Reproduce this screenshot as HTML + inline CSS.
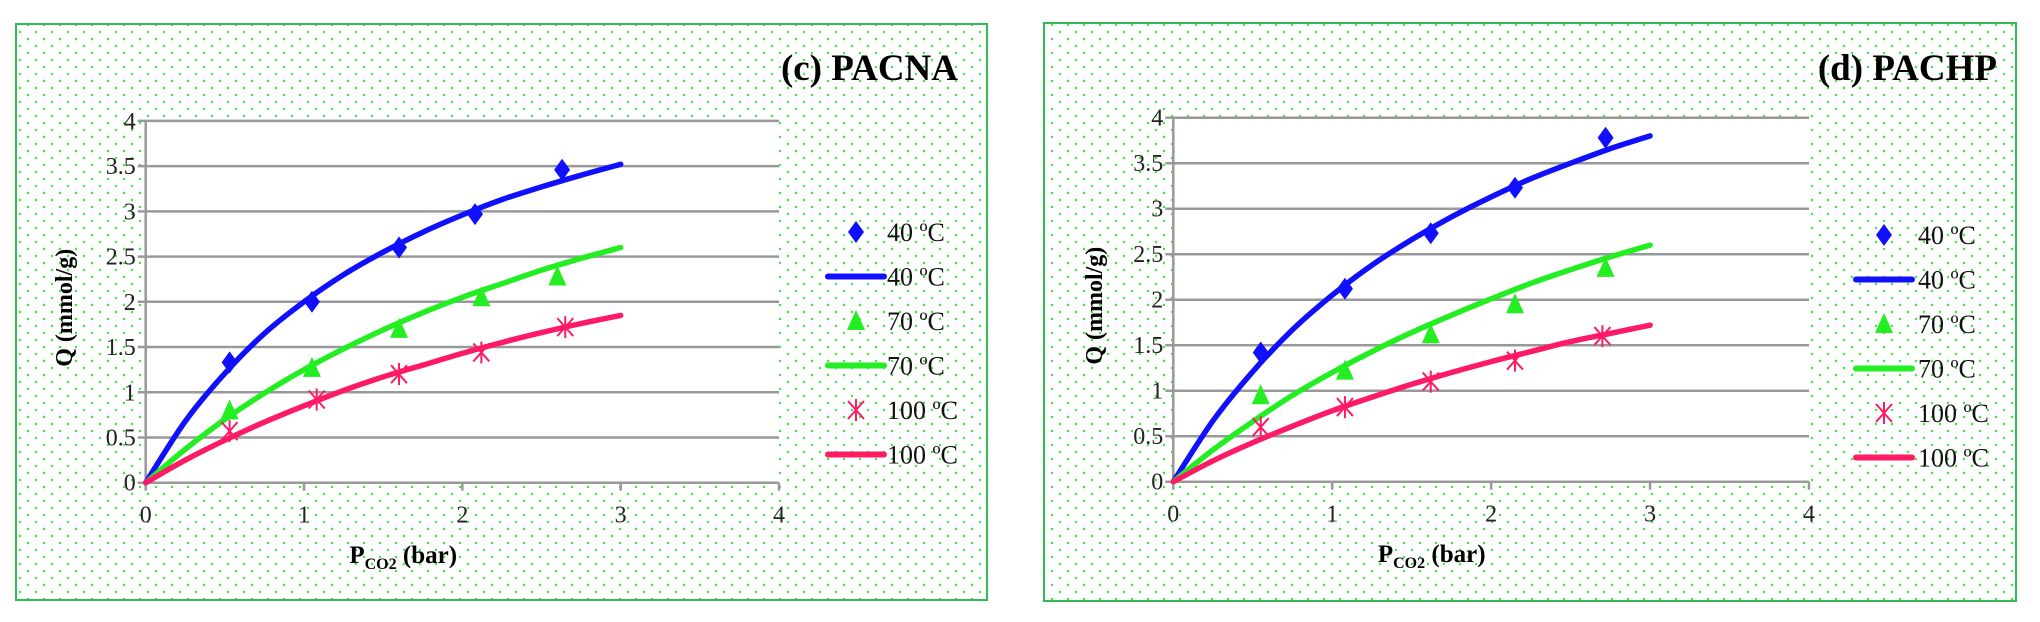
<!DOCTYPE html>
<html><head><meta charset="utf-8"><style>
html,body{margin:0;padding:0;background:#fff;}
svg{display:block;}
svg text{font-family:"Liberation Serif","DejaVu Serif",serif;}
</style></head><body>
<svg id="root" width="2040" height="622" viewBox="0 0 2040 622">
<defs>
<pattern id="dots" width="16" height="14" patternUnits="userSpaceOnUse">
<circle cx="4" cy="4" r="1.2" fill="#33ee33"/><circle cx="12" cy="11" r="1.2" fill="#33ee33"/>
</pattern>
</defs>
</svg>
<script>
// ---- data ----
const curveP = [0,0.25,0.5,0.75,1,1.25,1.5,1.75,2,2.25,2.5,2.75,3];
const xTicks = [0,1,2,3,4];
const yTicks = [0,0.5,1,1.5,2,2.5,3,3.5,4];
const yTickLabels = ["0","0.5","1","1.5","2","2.5","3","3.5","4"];
const seriesNames = ["40 ºC","70 ºC","100 ºC"];
// Panel c (PACNA)
const c40P = [0.53,1.05,1.6,2.08,2.63];
const c40Q = [1.33,2.0,2.6,2.97,3.46];
const c70P = [0.53,1.05,1.6,2.12,2.6];
const c70Q = [0.8,1.27,1.7,2.05,2.28];
const c100P = [0.53,1.08,1.6,2.12,2.65];
const c100Q = [0.57,0.92,1.2,1.44,1.72];
const c40Fit = [0,0.68,1.21,1.65,2.0,2.30,2.55,2.77,2.96,3.13,3.27,3.40,3.52];
const c70Fit = [0,0.37,0.70,0.99,1.25,1.48,1.69,1.88,2.05,2.20,2.35,2.48,2.6];
const c100Fit = [0,0.25,0.47,0.67,0.85,1.02,1.17,1.30,1.43,1.55,1.66,1.76,1.85];
// Panel d (PACHP)
const d40P = [0.55,1.08,1.62,2.15,2.72];
const d40Q = [1.42,2.12,2.73,3.23,3.78];
const d70P = [0.55,1.08,1.62,2.15,2.72];
const d70Q = [0.95,1.22,1.62,1.95,2.35];
const d100P = [0.55,1.08,1.62,2.15,2.7];
const d100Q = [0.6,0.82,1.1,1.33,1.6];
const d40Fit = [0,0.67,1.21,1.67,2.05,2.38,2.66,2.91,3.13,3.33,3.50,3.66,3.8];
const d70Fit = [0,0.35,0.66,0.95,1.2,1.43,1.64,1.83,2.01,2.18,2.33,2.47,2.6];
const d100Fit = [0,0.23,0.43,0.61,0.78,0.93,1.07,1.20,1.32,1.43,1.54,1.63,1.72];

const NS="http://www.w3.org/2000/svg";
const root=document.getElementById('root');
function mk(tag,attrs,parent){const e=document.createElementNS(NS,tag);for(const k in attrs)e.setAttribute(k,attrs[k]);(parent||root).appendChild(e);return e;}
const colors=["#1010ff","#22ee22","#ff1a66"];
const FF='"Liberation Serif", serif';

function smoothPath(pts){
  let d='M'+pts[0][0].toFixed(1)+','+pts[0][1].toFixed(1);
  for(let i=0;i<pts.length-1;i++){
    const p0=pts[Math.max(0,i-1)],p1=pts[i],p2=pts[i+1],p3=pts[Math.min(pts.length-1,i+2)];
    const c1x=p1[0]+(p2[0]-p0[0])/6,c1y=p1[1]+(p2[1]-p0[1])/6;
    const c2x=p2[0]-(p3[0]-p1[0])/6,c2y=p2[1]-(p3[1]-p1[1])/6;
    d+='C'+c1x.toFixed(1)+','+c1y.toFixed(1)+' '+c2x.toFixed(1)+','+c2y.toFixed(1)+' '+p2[0].toFixed(1)+','+p2[1].toFixed(1);
  }
  return d;
}

function panel(cfg){
  const g=mk('g',{});
  
  
  const bg=mk('rect',{x:cfg.bx,y:cfg.by,width:cfg.bw,height:cfg.bh,fill:'url(#dots)',stroke:'#33bb55','stroke-width':2},g);
  
  
  const X=p=>cfg.x0+(cfg.x4-cfg.x0)*p/4;
  const Y=q=>cfg.y0-(cfg.y0-cfg.y4)*q/4;
  const pa=mk('rect',{x:X(0),y:Y(4),width:X(4)-X(0),height:Y(0)-Y(4),fill:'#fff'},g);
  
  
  yTicks.forEach((t,i)=>{
    const l=mk('line',{x1:X(0)-8,x2:X(4),y1:Y(t),y2:Y(t),stroke:'#999','stroke-width':2.5},g);
    
    
    const tx=mk('text',{x:X(0)-10,y:Y(t)+8,'font-size':24,'font-family':FF,'text-anchor':'end',fill:'#222'},g);
    tx.textContent=yTickLabels[i];
    
    
  });
  const ya=mk('line',{x1:X(0),x2:X(0),y1:Y(4),y2:Y(0),stroke:'#999','stroke-width':2.5},g);
  
  
  xTicks.forEach(t=>{
    const l=mk('line',{x1:X(t),x2:X(t),y1:Y(0),y2:Y(0)+8,stroke:'#999','stroke-width':2.5},g);
    
    
    const tx=mk('text',{x:X(t),y:Y(0)+40,'font-size':24,'font-family':FF,'text-anchor':'middle',fill:'#222'},g);
    tx.textContent=String(t);
    
    
  });
  const yl=mk('text',{x:0,y:0,'font-size':24,'font-family':FF,'font-weight':'bold','text-anchor':'middle',transform:`translate(${cfg.ylx},${(Y(0)+Y(4))/2+6}) rotate(-90)`},g);
  yl.textContent='Q (mmol/g)';
  
  
  const xl=mk('text',{x:(X(0)+X(3)+40)/2,y:cfg.xly,'font-size':25,'font-family':FF,'font-weight':'bold','text-anchor':'middle'},g);
  xl.innerHTML='P<tspan font-size="16" dy="6">CO2</tspan><tspan dy="-6"> (bar)</tspan>';
  
  
  const tt=mk('text',{x:cfg.tx,y:80,'font-size':37,'font-family':FF,'font-weight':'bold','text-anchor':'end'},g);
  tt.textContent=cfg.title;
  
  
  cfg.fits.forEach((f,si)=>{
    const pts=curveP.map((p,i)=>[X(p),Y(f[i])]);
    const pl=mk('path',{d:smoothPath(pts),fill:'none',stroke:colors[si],'stroke-width':5.5,'stroke-linejoin':'round','stroke-linecap':'round'},g);
    
    
  });
  cfg.pts.forEach((s,si)=>{
    s[0].forEach((p,i)=>{
      const el=marker(si,X(p),Y(s[1][i]),g);
      
      
    });
  });
  for(let r=0;r<6;r++){
    const si=Math.floor(r/2), ry=cfg.ly+r*44.5;
    let el;
    if(r%2===0){el=marker(si,cfg.lmx,ry,g);}
    else{el=mk('line',{x1:cfg.lmx-28,x2:cfg.lmx+28,y1:ry,y2:ry,stroke:colors[si],'stroke-width':6,'stroke-linecap':'round'},g);}
    
    
    const tx=mk('text',{x:cfg.ltx,y:ry+9,'font-size':26,'font-family':FF,fill:'#111'},g);
    tx.textContent=seriesNames[si];
    
    
  }
}
function marker(si,x,y,g){
  if(si===0) return mk('polygon',{points:`${x},${y-11} ${x+8},${y} ${x},${y+11} ${x-8},${y}`,fill:colors[0]},g);
  if(si===1) return mk('polygon',{points:`${x},${y-11} ${x+9},${y+9} ${x-9},${y+9}`,fill:colors[1]},g);
  return mk('path',{d:`M${x-8},${y-9}L${x+8},${y+9}M${x+8},${y-9}L${x-8},${y+9}M${x},${y-11}L${x},${y+11}`,stroke:colors[2],'stroke-width':2,fill:'none'},g);
}
panel({name:'chart-pacna',bx:16,by:24,bw:971,bh:576,x0:145.7,x4:779,y0:482.7,y4:120.9,ylx:72,xly:563,tx:958,title:'(c) PACNA',
  fits:[c40Fit,c70Fit,c100Fit],pts:[[c40P,c40Q],[c70P,c70Q],[c100P,c100Q]],ly:232,lmx:856,ltx:887});
panel({name:'chart-pachp',bx:1044,by:23,bw:972,bh:578,x0:1173.3,x4:1809,y0:481.7,y4:117.7,ylx:1102,xly:562,tx:1997,title:'(d) PACHP',
  fits:[d40Fit,d70Fit,d100Fit],pts:[[d40P,d40Q],[d70P,d70Q],[d100P,d100Q]],ly:235,lmx:1884,ltx:1918});
</script>
</body></html>
